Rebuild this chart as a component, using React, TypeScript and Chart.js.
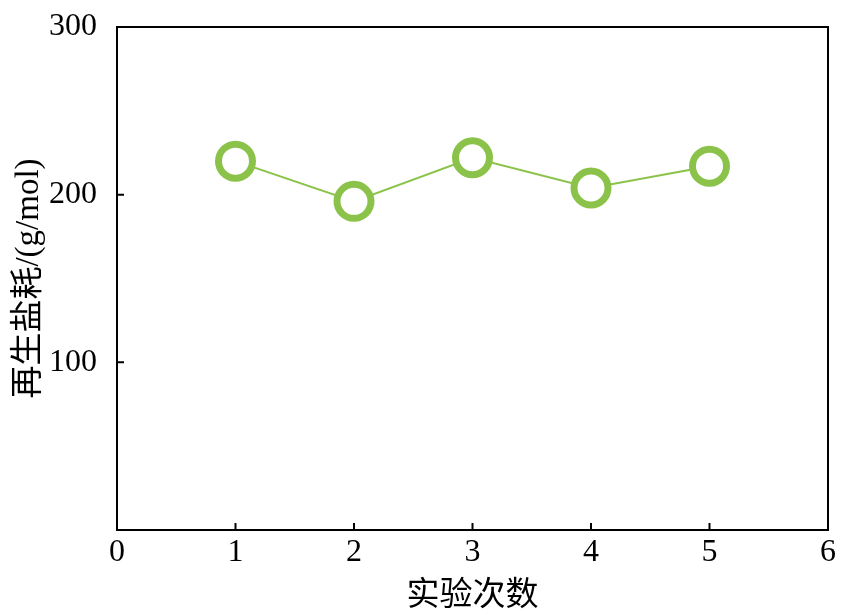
import React, { useEffect, useRef } from "react";
import { Chart, registerables } from "chart.js";

Chart.register(...registerables);

const runs = [1, 2, 3, 4, 5];
const saltUse = [220, 196, 222, 204, 217];
const xTickValues = [0, 1, 2, 3, 4, 5, 6];
const yTickValues = [0, 100, 200, 300];
const xTitle = "实验次数";
const yTitle = "再生盐耗/(g/mol)";

const GREEN = "#8bc34a";
const FONT = "'Liberation Serif', 'Times New Roman', 'Noto Sans CJK SC', serif";

const framePlugin = {
  id: "frameTicks",
  afterDatasetsDraw(chart: any) {
    const { ctx, chartArea, scales } = chart;
    const { left, right, top, bottom } = chartArea;
    ctx.save();
    ctx.strokeStyle = "#000";
    ctx.lineWidth = 2;
    ctx.beginPath();
    ctx.rect(left, top, right - left, bottom - top);
    ctx.stroke();
    const len = 7;
    ctx.beginPath();
    xTickValues.forEach((v) => {
      const px = scales.x.getPixelForValue(v);
      if (px > left + 1 && px < right - 1) {
        ctx.moveTo(px, bottom);
        ctx.lineTo(px, bottom - len);
      }
    });
    yTickValues.forEach((v) => {
      const py = scales.y.getPixelForValue(v);
      if (py > top + 1 && py < bottom - 1) {
        ctx.moveTo(left, py);
        ctx.lineTo(left + len, py);
      }
    });
    ctx.stroke();
    ctx.fillStyle = "#000";
    ctx.font = `32px ${FONT}`;
    ctx.textAlign = "center";
    ctx.textBaseline = "middle";
    xTickValues.forEach((v) => {
      const px = scales.x.getPixelForValue(v);
      ctx.fillText(String(v), px, bottom + 23);
    });
    ctx.restore();
  },
};

export default function App() {
  const ref = useRef<HTMLCanvasElement>(null);
  useEffect(() => {
    const chart = new Chart(ref.current as HTMLCanvasElement, {
      type: "scatter",
      data: {
        datasets: [
          {
            data: runs.map((r, i) => ({ x: r, y: saltUse[i] })),
            showLine: true,
            borderColor: GREEN,
            borderWidth: 2,
            pointRadius: 17,
            pointBorderWidth: 7,
            pointBackgroundColor: "#fff",
            pointBorderColor: GREEN,
            pointHoverRadius: 17,
          },
        ],
      },
      options: {
        animation: false,
        responsive: false,
        maintainAspectRatio: false,
        layout: { autoPadding: false, padding: { left: 0, right: 13, top: 27, bottom: 0 } },
        plugins: { legend: { display: false }, tooltip: { enabled: false } },
        scales: {
          x: {
            type: "linear",
            min: 0,
            max: 6,
            afterBuildTicks: (s: any) => {
              s.ticks = xTickValues.map((v) => ({ value: v }));
            },
            grid: { display: false },
            border: { display: false },
            ticks: { display: false },
            title: {
              display: true,
              text: xTitle,
              color: "#000",
              font: { family: FONT, size: 33, lineHeight: 1.2 },
              padding: { top: 0, bottom: 0 },
            },
            afterFit: (s: any) => {
              s.height = 86;
            },
          },
          y: {
            type: "linear",
            min: 0,
            max: 300,
            afterBuildTicks: (s: any) => {
              s.ticks = yTickValues.map((v) => ({ value: v }));
            },
            grid: { display: false },
            border: { display: false },
            ticks: {
              color: "#000",
              font: { family: FONT, size: 32, lineHeight: 1 },
              padding: 12,
              callback: (v: any) => (v === 0 ? "" : String(v)),
            },
            title: {
              display: true,
              text: yTitle,
              color: "#000",
              font: { family: FONT, size: 33, lineHeight: 1.2 },
              padding: { top: 10, bottom: 0 },
            },
            afterFit: (s: any) => {
              s.width = 117;
              s.paddingTop = 0;
              s.paddingBottom = 0;
            },
          },
        },
      },
      plugins: [framePlugin],
    });
    return () => chart.destroy();
  }, []);
  return (
    <div style={{ position: "fixed", left: 0, top: 0, width: 841, height: 616, background: "#fff" }}>
      <canvas ref={ref} width={841} height={616} style={{ display: "block" }} />
    </div>
  );
}
